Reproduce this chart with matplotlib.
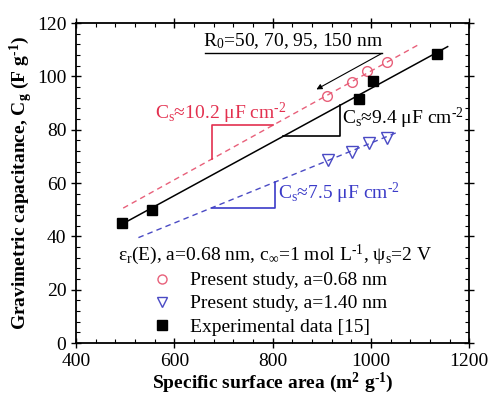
import numpy as np
import matplotlib
matplotlib.use("Agg")
import matplotlib.pyplot as plt
from matplotlib.lines import Line2D
from matplotlib.ticker import MultipleLocator

plt.rcParams["font.family"] = ["Liberation Serif", "DejaVu Serif"]
plt.rcParams["mathtext.fontset"] = "custom"
plt.rcParams["mathtext.rm"] = "Liberation Serif"
plt.rcParams["mathtext.it"] = "Liberation Serif:italic"
plt.rcParams["mathtext.bf"] = "Liberation Serif:bold"
plt.rcParams["mathtext.default"] = "regular"

# experimental data [15]
exp_area = [493, 554, 975, 1004, 1135]
exp_cap = [45.0, 50.0, 91.4, 98.2, 108.4]

# present study, a=0.68 nm (R0 = 150, 95, 70, 50 nm)
a068_area = [910, 961, 992, 1032]
a068_cap = [92.7, 98.0, 102.1, 105.2]

# present study, a=1.40 nm
a140_area = [912, 961, 995, 1032]
a140_cap = [68.6, 71.7, 74.9, 76.7]

# specific capacitances (uF cm^-2 -> F m^-2 via x0.01)
cs_red = 10.2
cs_blue = 7.5
red_span = [496, 1100]
blue_span = [527, 1058]
black_span = [493, 1156]

RED = "#e3304f"
RED_LINE = "#e8607a"
BLUE = "#3b3bc8"
BLUE_LINE = "#4a4ac4"

fig = plt.figure(figsize=(4.89, 3.94), dpi=100)
ax = fig.add_axes([0.1554, 0.1294, 0.8043, 0.8122])

# fitted lines
xr = np.array(red_span, dtype=float)
ax.plot(xr, cs_red * 0.01 * xr, ls=(0, (4, 3)), color=RED_LINE, lw=1.0)
xb = np.array(blue_span, dtype=float)
ax.plot(xb, cs_blue * 0.01 * xb, ls=(0, (4, 3)), color=BLUE_LINE, lw=1.0)
k, b0 = np.polyfit(exp_area, exp_cap, 1)
xk = np.array(black_span, dtype=float)
ax.plot(xk, k * xk + b0, color="black", lw=1.1)

# data points
ax.plot(a068_area, a068_cap, ls="none", marker="o", ms=7, mfc="none",
        mec=RED_LINE, mew=1.0)
ax.plot(a140_area, a140_cap, ls="none", marker="v", ms=8, mfc="none",
        mec=BLUE_LINE, mew=1.0)
ax.plot(exp_area, exp_cap, ls="none", marker="s", ms=7, color="black")

# slope triangles
x1, x2 = 676, 800
ax.plot([x1, x1, x2], [cs_red * 0.01 * x1, cs_red * 0.01 * x2, cs_red * 0.01 * x2],
        color=RED, lw=1.2)
x1, x2 = 676, 804
ax.plot([x1, x2, x2], [cs_blue * 0.01 * x1, cs_blue * 0.01 * x1, cs_blue * 0.01 * x2],
        color=BLUE, lw=1.2)
x1, x2 = 821, 937
ax.plot([x1, x2, x2], [k * x1 + b0, k * x1 + b0, k * x2 + b0], color="black", lw=1.2)

fs = 14
ax.text(561, 86.1, r"C$_s$≈10.2 μF cm$^{\text{-2}}$", color=RED, fontsize=fs, va="center")
ax.text(942, 84.2, r"C$_s$≈9.4 μF cm$^{\text{-2}}$", color="black", fontsize=fs, va="center")
ax.text(811, 56.1, r"C$_s$≈7.5 μF cm$^{\text{-2}}$", color=BLUE, fontsize=fs, va="center")

# R0 label with underline and arrow
ax.text(842, 113.2, r"R$_0$=50, 70, 95, 150 nm", fontsize=fs, ha="center", va="center")
ax.plot([662, 1022], [108.6, 108.6], color="black", lw=1.0)
ax.annotate("", xy=(889, 95.1), xytext=(1022, 108.6),
            arrowprops=dict(arrowstyle="-|>", color="black", lw=0.8,
                            mutation_scale=8, shrinkA=0, shrinkB=0))

# legend
ax.text(0.107, 0.276, r"ε$_r$(E), a=0.68 nm, c$_\infty$=1 mol L$^{\text{-1}}$, ψ$_s$=2 V",
        transform=ax.transAxes, fontsize=fs, va="center", ha="left")
handles = [
    Line2D([], [], ls="none", marker="o", ms=6.5, mfc="none", mec=RED_LINE, mew=1.0),
    Line2D([], [], ls="none", marker="v", ms=7.5, mfc="none", mec=BLUE_LINE, mew=1.0),
    Line2D([], [], ls="none", marker="s", ms=6.5, color="black"),
]
labels = ["Present study, a=0.68 nm", "Present study, a=1.40 nm", "Experimental data [15]"]
ax.legend(handles, labels, loc="upper left", bbox_to_anchor=(0.194, 0.2225),
          frameon=False, fontsize=fs, handlelength=1.0, handletextpad=0.94,
          borderpad=0, borderaxespad=0, labelspacing=0.28)

ax.set_xlim(400, 1200)
ax.set_ylim(0, 120)
ax.xaxis.set_major_locator(MultipleLocator(200))
ax.xaxis.set_minor_locator(MultipleLocator(40))
ax.yaxis.set_major_locator(MultipleLocator(20))
ax.yaxis.set_minor_locator(MultipleLocator(4))
ax.tick_params(which="major", direction="inout", length=7, width=1.0,
               top=True, right=True, labelsize=fs)
ax.tick_params(which="minor", direction="in", length=3, width=0.8, top=True, right=True)
for s in ax.spines.values():
    s.set_linewidth(1.3)

ax.set_xlabel(r"Specific surface area (m$^{\mathbf{2}}$ g$^{\text{-}\mathbf{1}}$)",
              fontsize=fs, fontweight="bold", labelpad=0.5)
ax.set_ylabel(r"Gravimetric capacitance, C$_{\mathbf{g}}$ (F g$^{\text{-}\mathbf{1}}$)",
              fontsize=fs, fontweight="bold", labelpad=1)

fig.savefig("out.png", dpi=100)
